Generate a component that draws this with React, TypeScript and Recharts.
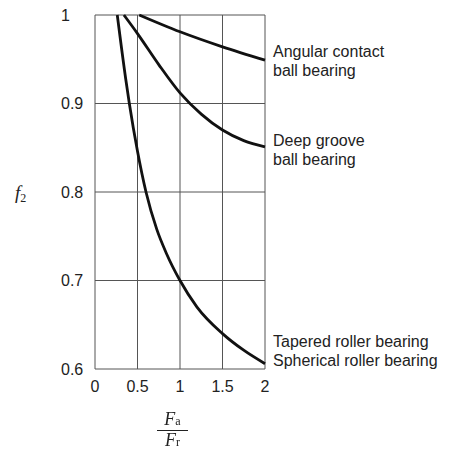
import * as React from 'react';
import { LineChart, Line, XAxis, YAxis, CartesianGrid } from 'recharts';

// f2 vs Fa/Fr
const xTicks = [0, 0.5, 1, 1.5, 2];
const yTicks = [0.6, 0.7, 0.8, 0.9, 1];

const angularX = [0.52, 1, 1.5, 2];
const angularY = [1.0, 0.981, 0.964, 0.949];

const deepX = [0.34, 0.5, 0.75, 1, 1.25, 1.5, 1.75, 2];
const deepY = [1.0, 0.979, 0.944, 0.912, 0.888, 0.87, 0.858, 0.851];

const taperedX = [0.262, 0.361, 0.404, 0.5, 0.6, 0.726, 0.843, 1.0, 1.2, 1.5, 1.745, 2];
const taperedY = [1.0, 0.928, 0.9, 0.846, 0.8, 0.758, 0.73, 0.7, 0.67, 0.64, 0.6215, 0.606];

const toRows = (xs: number[], ys: number[]) => xs.map((x, i) => ({ x, y: ys[i] }));

const series = [
  { key: 'angular', data: toRows(angularX, angularY) },
  { key: 'deep', data: toRows(deepX, deepY) },
  { key: 'tapered', data: toRows(taperedX, taperedY) },
];

const sans = '"Liberation Sans", Arial, sans-serif';
const serif = '"Liberation Serif", "DejaVu Serif", serif';
const tickStyle = { fontSize: 16, fill: '#222', fontFamily: sans };

// y labels in the reference are left-aligned, not right-aligned
const YTick = ({ y, payload }: any) => (
  <text x={61} y={y} dy="0.36em" textAnchor="start" {...tickStyle}>
    {payload.value}
  </text>
);

const label: React.CSSProperties = {
  position: 'absolute',
  left: 273,
  fontFamily: sans,
  fontSize: 16,
  color: '#222',
  lineHeight: '19px',
  whiteSpace: 'nowrap',
};

export default function App() {
  return (
    <div style={{ position: 'fixed', left: 0, top: 0, width: 452, height: 449, background: '#fff' }}>
      <LineChart
        width={452}
        height={449}
        margin={{ top: 15, right: 187, left: 35, bottom: 50 }}
      >
        <CartesianGrid stroke="#555" strokeWidth={1} horizontalValues={yTicks} verticalValues={xTicks} />
        <XAxis
          type="number"
          dataKey="x"
          domain={[0, 2]}
          ticks={xTicks}
          axisLine={false}
          tickLine={false}
          tickSize={0}
          tickMargin={12}
          height={30}
          tick={tickStyle}
          allowDuplicatedCategory={false}
        />
        <YAxis
          type="number"
          dataKey="y"
          domain={[0.6, 1]}
          ticks={yTicks}
          axisLine={false}
          tickLine={false}
          width={60}
          tick={<YTick />}
        />
        {series.map((s) => (
          <Line
            key={s.key}
            data={s.data}
            dataKey="y"
            type="monotone"
            stroke="#111"
            strokeWidth={2.8}
            dot={false}
            isAnimationActive={false}
          />
        ))}
      </LineChart>

      <div style={{ ...label, top: 42 }}>Angular contact<br />ball bearing</div>
      <div style={{ ...label, top: 131 }}>Deep groove<br />ball bearing</div>
      <div style={{ ...label, top: 332 }}>Tapered roller bearing<br />Spherical roller bearing</div>

      <div style={{ position: 'absolute', left: 15, top: 182, fontFamily: serif, fontSize: 19, color: '#222' }}>
        <i>f</i>
        <span style={{ fontSize: 12, verticalAlign: -3 }}>2</span>
      </div>

      <div
        style={{
          position: 'absolute',
          left: 157,
          top: 411,
          width: 31,
          textAlign: 'center',
          fontFamily: serif,
          fontSize: 18,
          color: '#222',
          lineHeight: '16px',
        }}
      >
        <div style={{ borderBottom: '1px solid #222', paddingBottom: 1 }}>
          <i>F</i>
          <span style={{ fontSize: 12 }}>a</span>
        </div>
        <div style={{ paddingTop: 1 }}>
          <i>F</i>
          <span style={{ fontSize: 12 }}>r</span>
        </div>
      </div>
    </div>
  );
}
